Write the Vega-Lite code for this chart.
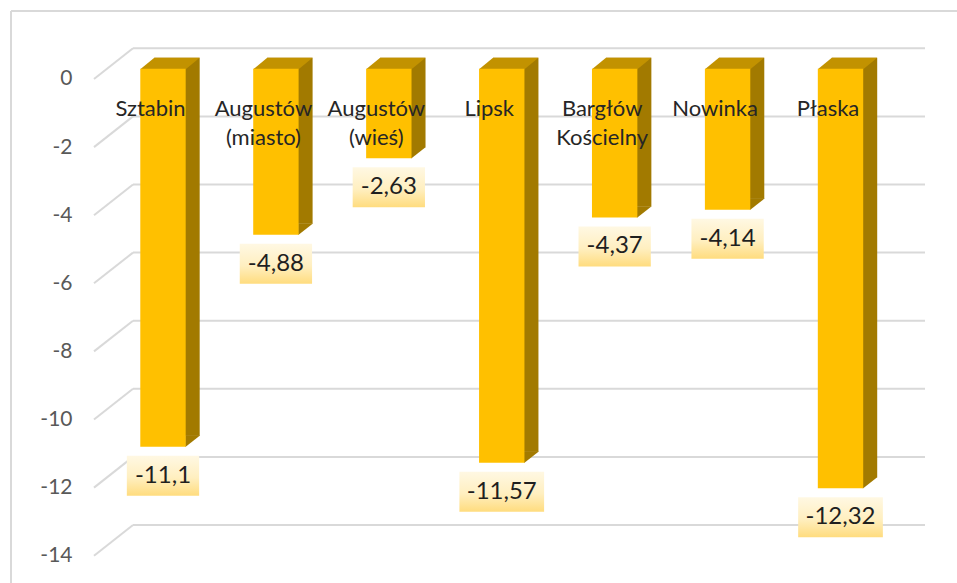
{
  "$schema": "https://vega.github.io/schema/vega-lite/v6.json",
  "width": 946.5,
  "height": 572.5,
  "autosize": {"type": "none"},
  "padding": {"left": 10.5, "top": 10.5, "right": 0, "bottom": 0},
  "background": "white",
  "config": {
    "view": {"stroke": null},
    "font": "Lato",
    "locale": {"number": {"decimal": ",", "thousands": " ", "grouping": [3], "currency": ["", ""], "minus": "-"}}
  },
  "datasets": {
    "gminy": [
      {"name": "Sztabin", "value": -11.1},
      {"name": "Augustów (miasto)", "value": -4.88},
      {"name": "Augustów (wieś)", "value": -2.63},
      {"name": "Lipsk", "value": -11.57},
      {"name": "Bargłów Kościelny", "value": -4.37},
      {"name": "Nowinka", "value": -4.14},
      {"name": "Płaska", "value": -12.32}
    ],
    "siatka": [
      {"v": 0}, {"v": -2}, {"v": -4}, {"v": -6}, {"v": -8}, {"v": -10}, {"v": -12}, {"v": -14}
    ]
  },
  "data": {"name": "gminy"},
  "layer": [
    {
      "data": {"name": "siatka"},
      "mark": {"type": "tick", "orient": "horizontal", "size": 792, "thickness": 2, "color": "#D9D9D9", "opacity": 1, "xOffset": 45.25, "yOffset": -20.4},
      "encoding": {
        "y": {
          "field": "v", "type": "quantitative", "title": null,
          "scale": {"domain": [-15.104, 1.709], "nice": false, "zero": false},
          "axis": {
            "orient": "left", "title": null, "values": [0, -2, -4, -6, -8, -10, -12, -14],
            "domain": true, "domainColor": "#D9D9D9", "domainWidth": 2,
            "ticks": false, "grid": false,
            "labelPadding": -61.5, "labelOffset": 10.3, "labelAlign": "right", "labelBaseline": "middle",
            "labelFont": "Lato", "labelFontSize": 21, "labelColor": "#595959",
            "labelOverlap": false, "labelFlush": false, "zindex": 1
          }
        }
      }
    },
    {
      "data": {"name": "siatka"},
      "mark": {"type": "point", "shape": "M-0.975,0.7675L0.975,-0.7675", "size": 1600, "filled": false, "stroke": "#D9D9D9", "strokeWidth": 2, "opacity": 1, "xOffset": -370.25, "yOffset": -5.05},
      "encoding": {
        "y": {"field": "v", "type": "quantitative", "title": null}
      }
    },
    {
      "mark": {"type": "bar", "color": "#A27A00", "xOffset": 14, "x2Offset": 14, "yOffset": -11, "y2Offset": -11},
      "encoding": {
        "x": {"field": "name", "type": "nominal", "sort": null, "title": null},
        "y": {"field": "value", "type": "quantitative", "title": null}
      }
    },
    {
      "mark": {"type": "point", "shape": "M0.555,-0.2825L0.9175,-0.2825L0.9175,-0.275L0.5675,0L0.555,0Z", "size": 6400, "filled": true, "color": "#A27A00", "strokeWidth": 0, "opacity": 1},
      "encoding": {
        "x": {"field": "name", "type": "nominal", "sort": null, "title": null},
        "y": {"field": "value", "type": "quantitative", "title": null}
      }
    },
    {
      "mark": {"type": "point", "shape": "M-0.5675,0.015L0.5675,0.015L0.9175,-0.275L-0.2175,-0.275Z", "size": 6400, "filled": true, "color": "#C29200", "strokeWidth": 0, "opacity": 1},
      "encoding": {
        "x": {"field": "name", "type": "nominal", "sort": null, "title": null},
        "y": {"datum": 0, "type": "quantitative", "title": null}
      }
    },
    {
      "mark": {"type": "bar", "color": "#FFC000"},
      "encoding": {
        "x": {
          "field": "name", "type": "nominal", "sort": null, "title": null,
          "scale": {"paddingInner": 0.598, "paddingOuter": 0.99, "align": 0.5805},
          "axis": {
            "orient": "top", "title": null, "domain": true, "domainColor": "#D9D9D9", "domainWidth": 2,
            "ticks": false, "grid": false,
            "labelExpr": "split(datum.label, ' ')", "labelAngle": 0, "labelAlign": "center", "labelBaseline": "alphabetic",
            "labelPadding": -105, "labelOffset": -12.5,
            "labelFont": "Lato", "labelFontSize": 22, "labelColor": "#262626", "labelLineHeight": 29,
            "labelOverlap": false, "labelFlush": false, "labelLimit": 0, "zindex": 2
          }
        },
        "y": {"field": "value", "type": "quantitative", "title": null}
      }
    },
    {
      "mark": {
        "type": "tick", "orient": "horizontal", "thickness": 40, "opacity": 1, "yOffset": 29,
        "size": {"expr": "12.4*length(format(datum.value, '.2~f')) + 10.3"},
        "color": {"gradient": "linear", "x1": 0, "y1": 0, "x2": 0, "y2": 1,
          "stops": [{"offset": 0, "color": "#FFF8E3"}, {"offset": 0.55, "color": "#FFEFC0"}, {"offset": 1, "color": "#FFDC7E"}]}
      },
      "encoding": {
        "x": {"field": "name", "type": "nominal", "sort": null, "title": null},
        "y": {"field": "value", "type": "quantitative", "title": null}
      }
    },
    {
      "mark": {"type": "text", "font": "Lato", "fontSize": 24, "color": "#1F1F1F", "align": "center", "baseline": "middle", "yOffset": 29},
      "encoding": {
        "x": {"field": "name", "type": "nominal", "sort": null, "title": null},
        "y": {"field": "value", "type": "quantitative", "title": null},
        "text": {"field": "value", "type": "quantitative", "format": ".2~f"}
      }
    }
  ]
}
